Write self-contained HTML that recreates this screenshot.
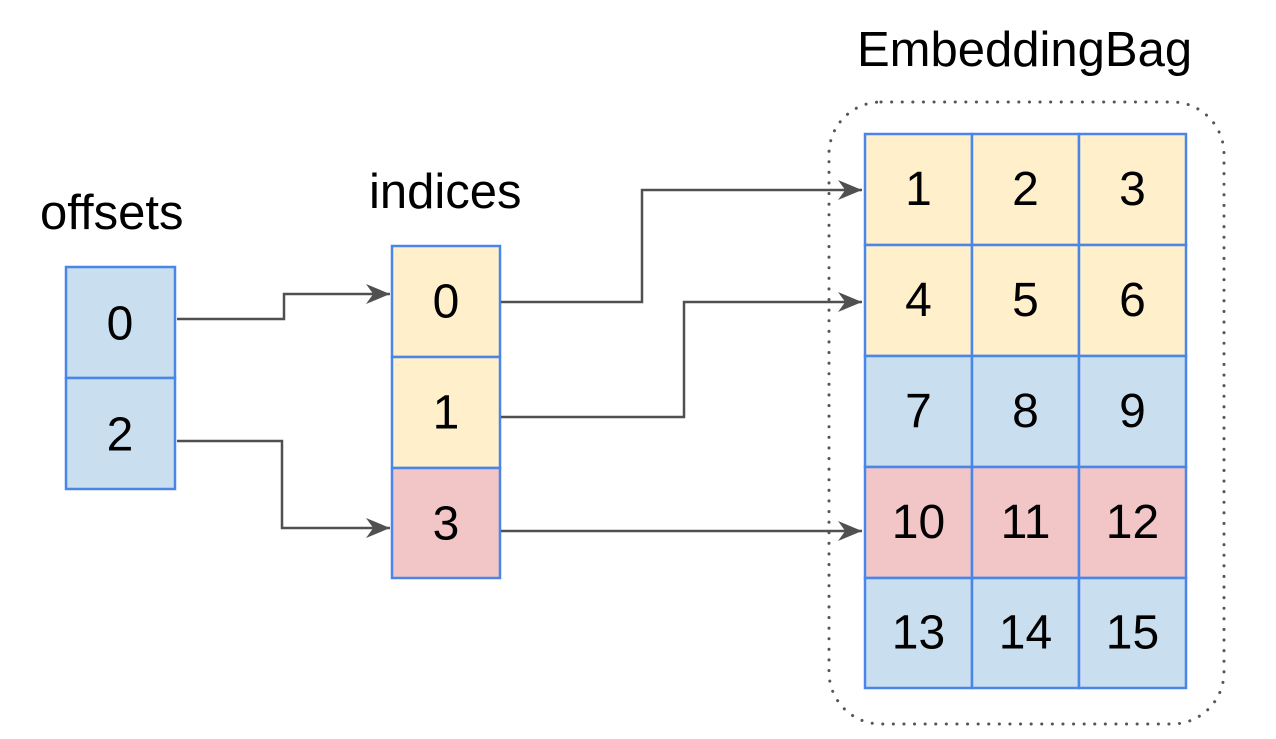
<!DOCTYPE html>
<html><head><meta charset="utf-8"><style>
html,body{margin:0;padding:0;background:#fff;}
svg{display:block;}
text{font-family:"Liberation Sans",sans-serif;fill:#000;}
</style></head><body>
<svg width="1276" height="739" viewBox="0 0 1276 739">
<defs><marker id="ah" viewBox="0 0 10 10" refX="10" refY="5" markerWidth="24" markerHeight="20" markerUnits="userSpaceOnUse" orient="auto" preserveAspectRatio="none"><path d="M0,0 L10,5 L0,10 L3,5 Z" fill="#505050"/></marker></defs>
<style>.ar{fill:none;stroke:#505050;stroke-width:2.5;}
.c{stroke:#4a86e8;stroke-width:2.5;}
.n{font-size:48px;text-anchor:middle;dominant-baseline:central;}
.t{font-size:49px;}</style>

<text class="t" x="40" y="229">offsets</text>
<g>
<rect class="c" x="66" y="267" width="109" height="111" fill="#c9deef"/>
<rect class="c" x="66" y="378" width="109" height="111" fill="#c9deef"/>
<text class="n" x="120" y="324">0</text><text class="n" x="120" y="435">2</text>
</g>

<text class="t" x="369" y="208">indices</text>
<g>
<rect class="c" x="392" y="246" width="108" height="111" fill="#fff0cb"/>
<rect class="c" x="392" y="357" width="108" height="111" fill="#fff0cb"/>
<rect class="c" x="392" y="468" width="108" height="110" fill="#f2c5c7"/>
<text class="n" x="446" y="302">0</text><text class="n" x="446" y="413">1</text><text class="n" x="446" y="524">3</text>
</g>

<text class="t" x="857" y="66">EmbeddingBag</text>
<rect x="829" y="102" width="395" height="622" rx="52" fill="none" stroke="#555" stroke-width="3" stroke-dasharray="0.1 10.5" stroke-linecap="round"/>
<g id="tbl"></g>

<g>
<path class="ar" d="M177,319 H284 V294 H390" marker-end="url(#ah)"/>
<path class="ar" d="M177,441 H282 V528 H390" marker-end="url(#ah)"/>
<path class="ar" d="M501,302 H642 V190 H862" marker-end="url(#ah)"/>
<path class="ar" d="M501,417 H684 V302 H862" marker-end="url(#ah)"/>
<path class="ar" d="M501,531 H862" marker-end="url(#ah)"/>
</g>
</svg>
<script>
const rowColors=["#fff0cb","#fff0cb","#c9deef","#f2c5c7","#c9deef"];
const g=document.getElementById('tbl');
const ns="http://www.w3.org/2000/svg";
const xs=[865,972,1079,1186], ys=[134,245,356,467,578,688];
for(let r=0;r<5;r++)for(let c=0;c<3;c++){
 const rc=document.createElementNS(ns,'rect');
 
 
 rc.setAttribute('x',xs[c]);rc.setAttribute('y',ys[r]);
 rc.setAttribute('width',xs[c+1]-xs[c]);rc.setAttribute('height',ys[r+1]-ys[r]);
 rc.setAttribute('fill',rowColors[r]);rc.setAttribute('class','c');
 g.appendChild(rc);
 const t=document.createElementNS(ns,'text');
 
 
 t.setAttribute('class','n');
 t.setAttribute('x',(xs[c]+xs[c+1])/2);t.setAttribute('y',(ys[r]+ys[r+1])/2);
 t.textContent=r*3+c+1;
 g.appendChild(t);
}
</script>
</body></html>
